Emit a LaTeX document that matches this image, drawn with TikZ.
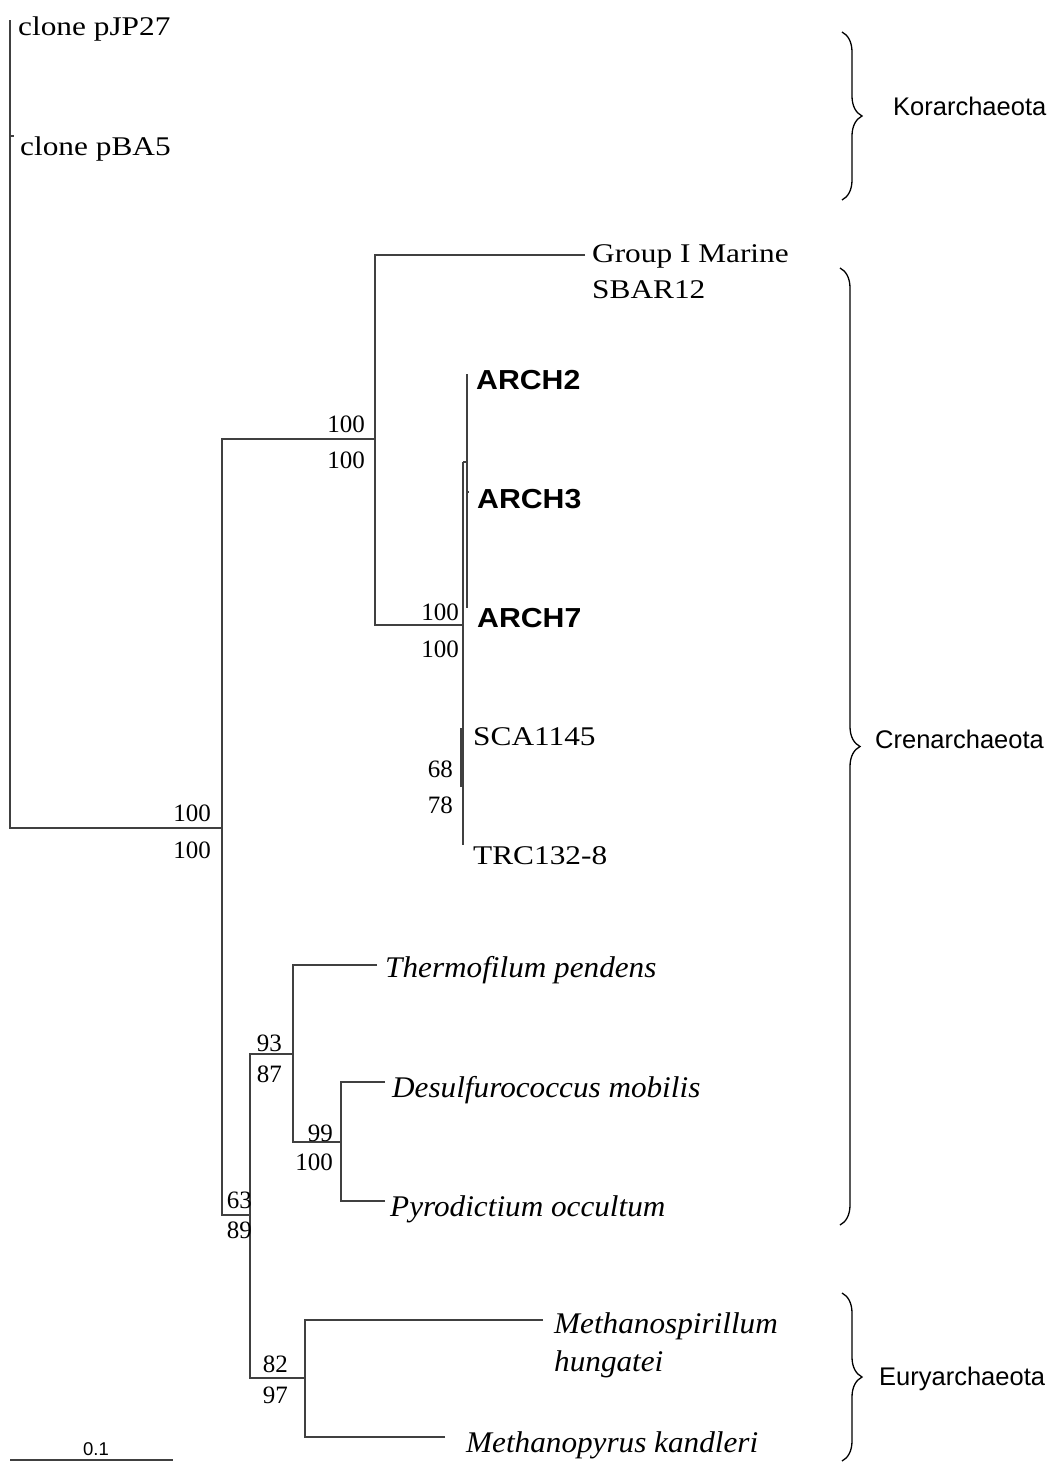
\documentclass[tikz,border=0pt]{standalone}
\usepackage{fontspec}
\setmainfont{Liberation Serif}
\setsansfont{Liberation Sans}
\usetikzlibrary{decorations.pathreplacing}
\newcommand\wideR[1]{\scalebox{1.16}[1]{#1}}
\newcommand\wideB[1]{\scalebox{1.1}[1]{#1}}
\newcommand\wideI[1]{\scalebox{1.04}[1]{#1}}
\begin{document}
\begin{tikzpicture}[x=1pt,y=-1pt,
  br/.style={line width=1.2pt, draw=black!75},
  lf/.style={anchor=base west, inner sep=0pt, font=\fontsize{27}{32}\selectfont},
  lfi/.style={anchor=base west, inner sep=0pt, font=\fontsize{30}{34}\selectfont\itshape},
  lfb/.style={anchor=base west, inner sep=0pt, font=\fontsize{27.5}{32}\selectfont\sffamily\bfseries},
  bs/.style={anchor=base east, inner sep=0pt, font=\fontsize{25}{30}\selectfont},
  cl/.style={anchor=base west, inner sep=0pt, font=\fontsize{25.5}{30}\selectfont\sffamily},
  brc/.style={decorate, decoration={brace, amplitude=20pt}, line width=1.3pt, draw=black},
]
\useasboundingbox (0,0) rectangle (1052,1462);

% internal nodes and leaf tips
\coordinate (root) at (10,828);
\coordinate (kA) at (10,20);
\coordinate (kB) at (14,136);
\coordinate (n1) at (222,828);
\coordinate (n2) at (375,439);
\coordinate (gm) at (585,255);
\coordinate (n3) at (463,625);
\coordinate (nA) at (463,462);
\coordinate (a2) at (467,374);
\coordinate (a3) at (469,492);
\coordinate (a7) at (467,608);
\coordinate (sc) at (461,728);
\coordinate (scb) at (461,787);
\coordinate (tr) at (463,845);
\coordinate (n5) at (250,1215);
\coordinate (n6) at (293,1054);
\coordinate (tp) at (377,965);
\coordinate (n7) at (341,1142);
\coordinate (dm) at (385,1082);
\coordinate (po) at (385,1201);
\coordinate (n8) at (305,1378);
\coordinate (ms) at (543,1320);
\coordinate (mk) at (445,1437);

% branches
\draw[br] (kA) -- (root) -- (n1);
\draw[br] (root |- kB) -- (kB);
\draw[br] (n2) -| (n1);
\draw[br] (n5) -| (n1);
\draw[br] (gm) -| (n2);
\draw[br] (n3) -| (n2);
\draw[br] (nA) -- (tr);
\draw[br] (nA) -| (a2);
\draw[br] (a2) -- (a7);
\draw[br] (a2 |- a3) -- (a3);
\draw[br] (sc) -- (scb);
\draw[br] (n6) -| (n5);
\draw[br] (n8) -| (n5);
\draw[br] (tp) -| (n6);
\draw[br] (n7) -| (n6);
\draw[br] (dm) -| (n7);
\draw[br] (po) -| (n7);
\draw[br] (ms) -| (n8);
\draw[br] (mk) -| (n8);

% leaf labels
\node[lf] (tA) at (18,35) {\wideR{clone pJP27}};
\node[lf] (tB) at (20,155) {\wideR{clone pBA5}};
\node[lf] (tG) at (592,262) {\wideR{Group I Marine}};
\node[lf] (tG2) at (592,298) {\wideR{SBAR12}};
\node[lfb] (t2) at (476,389) {\wideB{ARCH2}};
\node[lfb] (t3) at (477,508) {\wideB{ARCH3}};
\node[lfb] (t7) at (477,627) {\wideB{ARCH7}};
\node[lf] (tS) at (473,745) {\wideR{SCA1145}};
\node[lf] (tT) at (473,864) {\wideR{TRC132-8}};
\node[lfi] (tP) at (385,977) {\wideI{Thermofilum pendens}};
\node[lfi] (tD) at (392,1097) {\wideI{Desulfurococcus mobilis}};
\node[lfi] (tPo) at (390,1216) {\wideI{Pyrodictium occultum}};
\node[lfi] (tM) at (554,1333) {\wideI{Methanospirillum}};
\node[lfi] (tM2) at (554,1371) {\wideI{hungatei}};
\node[lfi] (tK) at (466,1452) {\wideI{Methanopyrus kandleri}};

% bootstrap values
\node[bs] (b1) at (211,821) {100};
\node[bs] (b1l) at (211,858) {100};
\node[bs] (b2) at (365,432) {100};
\node[bs] (b2l) at (365,468) {100};
\node[bs] (b3) at (459,620) {100};
\node[bs] (b3l) at (459,657) {100};
\node[bs] (b4) at (453,777) {68};
\node[bs] (b4l) at (453,813) {78};
\node[bs] (b6) at (282,1051) {93};
\node[bs] (b6l) at (282,1082) {87};
\node[bs] (b7) at (333,1141) {99};
\node[bs] (b7l) at (333,1170) {100};
\node[bs] (b5) at (252,1208) {63};
\node[bs] (b5l) at (252,1238) {89};
\node[bs] (b8) at (288,1372) {82};
\node[bs] (b8l) at (288,1403) {97};

% scale bar
\coordinate (sbL) at (10,1460);
\coordinate (sbR) at (173,1460);
\draw[br] (sbL) -- (sbR);
\node[anchor=base, inner sep=0pt, font=\fontsize{18.5}{22}\selectfont\sffamily] (sbt) at (96,1455) {0.1};

% clade braces
\coordinate (kT) at (842,32);
\coordinate (kBo) at (842,200);
\coordinate (cT) at (840,268);
\coordinate (cB) at (840,1225);
\coordinate (eT) at (842,1293);
\coordinate (eB) at (842,1461);
\draw[brc] (kT) -- (kBo);
\draw[brc] (cT) -- (cB);
\draw[brc] (eT) -- (eB);
\node[cl] (lK) at (893,115) {Korarchaeota};
\node[cl] (lC) at (875,748) {Crenarchaeota};
\node[cl] (lE) at (879,1385) {Euryarchaeota};
\end{tikzpicture}
\end{document}
